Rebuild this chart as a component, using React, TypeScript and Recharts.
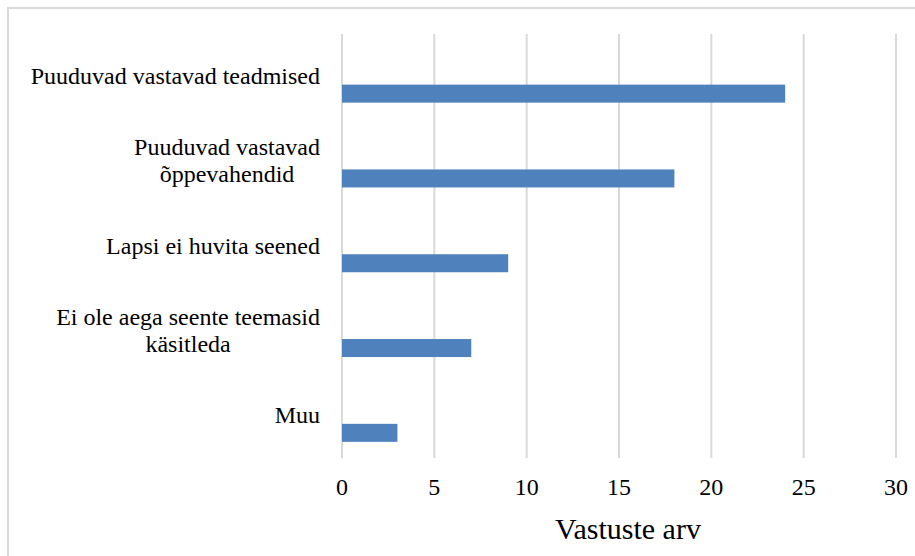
import React from "react";
import { Bar, BarChart, CartesianGrid, XAxis, YAxis } from "recharts";

const categories = [
  "Puuduvad vastavad teadmised",
  "Puuduvad vastavad\nõppevahendid",
  "Lapsi ei huvita seened",
  "Ei ole aega seente teemasid\nkäsitleda",
  "Muu"
];
const answers = [24, 18, 9, 7, 3];
const xTicks = [0, 5, 10, 15, 20, 25, 30];
const axisTitle = "Vastuste arv";

const data = categories.map((name, i) => ({ name, value: answers[i] }));

const FONT = "Liberation Serif";
const LABEL_SIZE = 24;
const LINE_GAP = 26.5;

let ctx: CanvasRenderingContext2D | null = null;
function textWidth(s: string) {
  if (!ctx) ctx = document.createElement("canvas").getContext("2d");
  if (!ctx) return s.length * 11;
  ctx.font = `${LABEL_SIZE}px "${FONT}"`;
  return ctx.measureText(s).width;
}

// excel-style label: block right aligned, lines centred inside it
function CategoryTick(props: any) {
  const { x, y, payload } = props;
  const lines = String(payload.value).split("\n");
  const block = Math.max(...lines.map(textWidth));
  const cx = x - block / 2;
  return (
    <g>
      {lines.map((line, i) => (
        <text
          key={i}
          x={cx}
          y={y + 7.5 + (i - (lines.length - 1) / 2) * LINE_GAP}
          textAnchor="middle"
          style={{ fontFamily: FONT, fontSize: LABEL_SIZE }}
          fill="#000"
        >
          {line}
        </text>
      ))}
    </g>
  );
}

// bar sits in the lower half of the band, like the second of two series
function LowBar(props: any) {
  const { x, y, width, height, fill } = props;
  if (!width) return null;
  return <rect x={x} y={y + height * 0.98} width={width} height={height} fill={fill} />;
}

function AxisTitle(props: any) {
  const vb = props.viewBox;
  return (
    <text
      x={vb.x + vb.width / 2 + 9}
      y={vb.y + 81}
      textAnchor="middle"
      style={{ fontFamily: FONT, fontSize: 30 }}
      fill="#000"
    >
      {axisTitle}
    </text>
  );
}

export default function App() {
  return (
    <div style={{ position: "fixed", left: 0, top: 0, width: 915, height: 556, overflow: "hidden", background: "#fff", fontFamily: FONT }}>
      <div
        style={{
          position: "absolute",
          left: 7,
          top: 7,
          width: 1000,
          height: 1000,
          borderLeft: "2px solid #d9d9d9",
          borderTop: "2px solid #d9d9d9"
        }}
      />
      <div style={{ position: "absolute", left: 0, top: 0 }}>
        <BarChart
          width={915}
          height={556}
          data={data}
          layout="vertical"
          margin={{ top: 34, right: 19, left: 0, bottom: 0 }}
        >
          <CartesianGrid horizontal={false} stroke="#d9d9d9" strokeWidth={2} />
          <XAxis
            type="number"
            domain={[0, 30]}
            ticks={xTicks}
            height={98}
            axisLine={false}
            tickLine={false}
            tickSize={0}
            tickMargin={20}
            tick={{ fontFamily: FONT, fontSize: 24, fill: "#000" }}
            label={<AxisTitle />}
          />
          <YAxis
            type="category"
            dataKey="name"
            width={342}
            axisLine={false}
            tickLine={false}
            tickSize={0}
            tickMargin={22}
            interval={0}
            tick={<CategoryTick />}
          />
          <Bar dataKey="value" fill="#4f81bd" barSize={18} shape={<LowBar />} isAnimationActive={false} />
        </BarChart>
      </div>
    </div>
  );
}
